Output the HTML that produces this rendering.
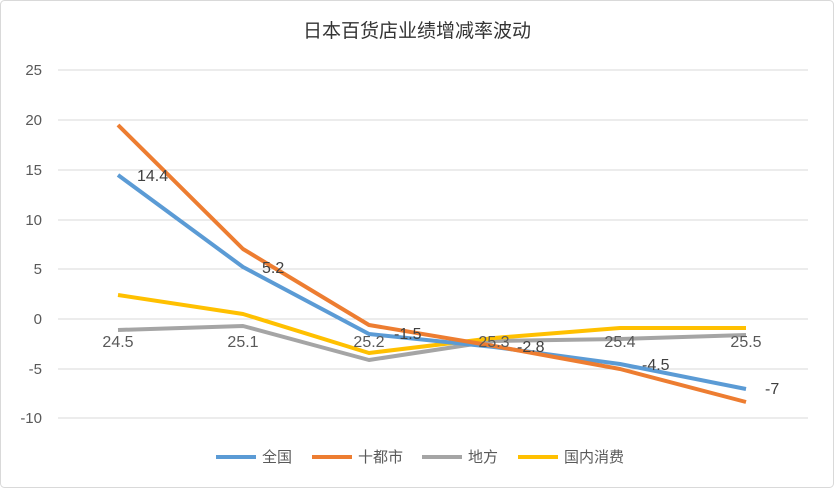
<!DOCTYPE html>
<html><head><meta charset="utf-8"><style>
body{margin:0;background:#fff}
svg text{font-family:"Liberation Sans","Noto Sans CJK SC",sans-serif}
</style></head><body>
<svg width="834" height="488" xmlns="http://www.w3.org/2000/svg">
<rect x="0.5" y="0.5" width="833" height="487" rx="4" fill="#fff" stroke="#d9d9d9"/>
<text x="417" y="37" font-size="19" text-anchor="middle" fill="#333">日本百货店业绩增减率波动</text>
<g stroke="#d9d9d9" stroke-width="1">
<line x1="58" x2="808" y1="70" y2="70"/><line x1="58" x2="808" y1="120" y2="120"/>
<line x1="58" x2="808" y1="170" y2="170"/><line x1="58" x2="808" y1="220" y2="220"/>
<line x1="58" x2="808" y1="269" y2="269"/><line x1="58" x2="808" y1="319" y2="319"/>
<line x1="58" x2="808" y1="369" y2="369"/><line x1="58" x2="808" y1="418" y2="418"/>
</g>
<g font-size="15" fill="#595959" text-anchor="end">
<text x="42" y="75">25</text><text x="42" y="125">20</text><text x="42" y="175">15</text>
<text x="42" y="225">10</text><text x="42" y="274">5</text><text x="42" y="324">0</text>
<text x="42" y="374">-5</text><text x="42" y="423">-10</text>
</g>
<g fill="none" stroke-width="4" stroke-linejoin="round">
<polyline stroke="#A5A5A5" points="118,330 243,326 369,360 494,341 620,339 746,335"/>
<polyline stroke="#FFC000" points="118,295 243,314 369,353 494,338 620,328 746,328"/>
<polyline stroke="#5B9BD5" points="118,175 243,267 369,334 494,347 620,364 746,389"/>
<polyline stroke="#ED7D31" points="118,125 243,249 369,325 494,346 620,369 746,402"/>
</g>
<g font-size="16" fill="#595959" text-anchor="middle">
<text x="118" y="347">24.5</text><text x="243" y="347">25.1</text><text x="369" y="347">25.2</text>
<text x="494" y="347">25.3</text><text x="620" y="347">25.4</text><text x="746" y="347">25.5</text>
</g>
<g font-size="16" fill="#404040">
<text x="137" y="181">14.4</text><text x="262" y="273">5.2</text><text x="394" y="339">-1.5</text>
<text x="517" y="352">-2.8</text><text x="642" y="370">-4.5</text><text x="765" y="394">-7</text>
</g>
<g font-size="15" fill="#595959">
<line x1="216" x2="256" y1="457" y2="457" stroke="#5B9BD5" stroke-width="4"/><text x="262" y="462">全国</text>
<line x1="312" x2="352" y1="457" y2="457" stroke="#ED7D31" stroke-width="4"/><text x="358" y="462">十都市</text>
<line x1="422" x2="462" y1="457" y2="457" stroke="#A5A5A5" stroke-width="4"/><text x="468" y="462">地方</text>
<line x1="518" x2="558" y1="457" y2="457" stroke="#FFC000" stroke-width="4"/><text x="564" y="462">国内消费</text>
</g>
</svg>
</body></html>
